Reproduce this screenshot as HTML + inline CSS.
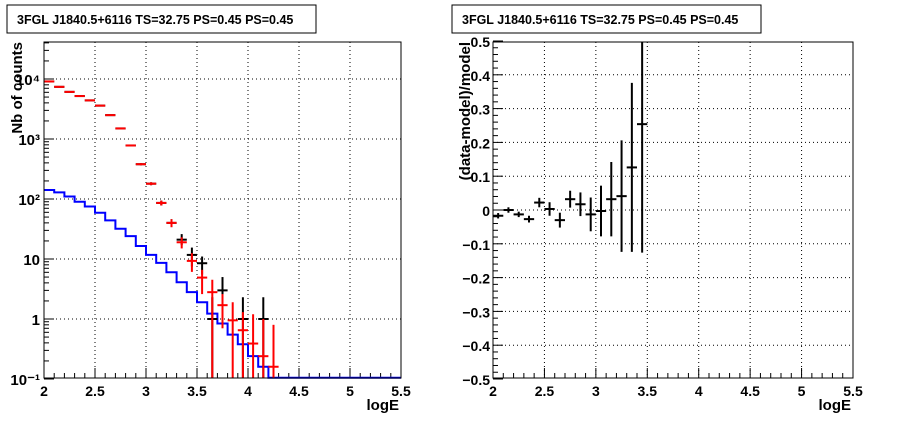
<!DOCTYPE html>
<html><head><meta charset="utf-8">
<style>
body{margin:0;background:#fff;}
svg{display:block;font-family:"Liberation Sans",Arial,sans-serif;}
</style></head>
<body>
<svg id="c" width="898" height="421" viewBox="0 0 898 421" xmlns="http://www.w3.org/2000/svg"></svg>
<script>
// ---- data ----
const binCenters = [2.05,2.15,2.25,2.35,2.45,2.55,2.65,2.75,2.85,2.95,3.05,3.15,3.25,3.35,3.45,3.55,3.65,3.75,3.85,3.95,4.05,4.15,4.25];
const redCounts = [9100,7400,6100,5200,4400,3600,2500,1500,780,380,180,86,40,19,9.3,4.9,2.8,1.7,0.95,0.65,0.39,0.24,0.16];
const redLow = [9000,7300,6000,5100,4300,3500,2450,1460,760,365,170,78,34,15,6.1,2.6,0.1,0.7,0.1,0.1,0.1,0.1,0.1];
const redHigh = [9200,7500,6200,5300,4500,3700,2550,1540,800,395,190,94,46,23,12.5,6.6,4.5,2.6,1.9,1.3,1.2,1.0,0.8];
const blackCounts = [9100,7400,6100,5200,4400,3600,2500,1500,780,380,180,86,40,21,11.7,8.5,1,3,0,1,0,1,0];
const blackLow = [9000,7300,6000,5100,4300,3500,2450,1460,760,365,170,78,34,17,7.5,5.5,0.1,1.5,0,0.1,0,0.1,0];
const blackHigh = [9200,7500,6200,5300,4500,3700,2550,1540,800,395,190,94,46,26,15.5,11,2.3,5,0,2.3,0,2.3,0];
const modelEdges = [2.0,2.1,2.2,2.3,2.4,2.5,2.6,2.7,2.8,2.9,3.0,3.1,3.2,3.3,3.4,3.5,3.6,3.7,3.8,3.9,4.0,4.1,4.2,5.5];
const modelCounts = [141,129,110,90,75,59,44,32,24,16.5,11.7,8.6,6,4.1,2.8,1.9,1.23,0.84,0.55,0.38,0.24,0.16,0.105];
const resCenters = [2.05,2.15,2.25,2.35,2.45,2.55,2.65,2.75,2.85,2.95,3.05,3.15,3.25,3.35,3.45];
const resValues = [-0.017,0.0,-0.013,-0.027,0.022,0.003,-0.03,0.032,0.017,-0.013,-0.003,0.032,0.041,0.126,0.254];
const resErrors = [0.008,0.008,0.008,0.01,0.014,0.02,0.022,0.025,0.035,0.05,0.075,0.11,0.165,0.25,0.38];
const xTickLabels = ["2","2.5","3","3.5","4","4.5","5","5.5"];
const logTickLabels = ["10\u207B\u00B9","1","10","10\u00B2","10\u00B3","10\u2074"];
const resTickLabels = ["\u22120.5","\u22120.4","\u22120.3","\u22120.2","\u22120.1","0","0.1","0.2","0.3","0.4","0.5"];

const svg = document.getElementById('c');
const NS = 'http://www.w3.org/2000/svg';
function mk(tag, attrs, parent){const e=document.createElementNS(NS,tag);for(const k in attrs)e.setAttribute(k,attrs[k]);(parent||svg).appendChild(e);return e;}

// axes
const L = {x0:44,x1:401,y0:42,y1:378};
const R = {x0:493,x1:853,y0:42,y1:378};
const lx = v => L.x0 + (v-2)/(3.5)*(L.x1-L.x0);
const ly = v => 379 - (Math.log10(Math.max(v,1e-3))+1)*60;
const clampL = y => Math.min(L.y1, Math.max(L.y0, y));
const rx = v => R.x0 + (v-2)/(3.5)*(R.x1-R.x0);
const ry = v => 210 - v*338;
const clampR = y => Math.min(R.y1, Math.max(R.y0, y));

// title boxes
[[7,'left-title'],[452,'right-title']].forEach(([x,n])=>{
  const g=mk('g',{});
  
  
  mk('rect',{x:x,y:5,width:309,height:28,fill:'#fff',stroke:'#000','stroke-width':1},g);
  const t=mk('text',{x:x+10,y:24,'font-size':12.5,'font-weight':'bold'},g);
  t.textContent='3FGL J1840.5+6116 TS=32.75 PS=0.45 PS=0.45';
});

function frame(F,name){
  const r=mk('rect',{x:F.x0,y:F.y0,width:F.x1-F.x0,height:F.y1-F.y0,fill:'none',stroke:'#000','stroke-width':1});
  
  
}
function grid(x1,y1,x2,y2){mk('line',{x1:x1,y1:y1,x2:x2,y2:y2,stroke:'#000','stroke-width':1,'stroke-dasharray':'1,3'});}

// x axes for both
[[L,lx,'left'],[R,rx,'right']].forEach(([F,fx,side])=>{
  for(let i=0;i<=35;i++){
    const v=2+i*0.1, x=fx(v), major=(i%5===0);
    mk('line',{x1:x,y1:F.y1,x2:x,y2:F.y1-(major?10:5),stroke:'#000'});
  }
  xTickLabels.forEach((s,i)=>{
    const v=2+i*0.5,x=fx(v);
    if(i>0&&i<7) grid(x,F.y0,x,F.y1);
    const t=mk('text',{x:x,y:F.y1+18,'font-size':14,'text-anchor':'middle','font-weight':'bold'});
    
    
    t.textContent=s;
  });
  const t=mk('text',{x:F.x1-2,y:410,'font-size':15,'text-anchor':'end','font-weight':'bold'});
  
  
  t.textContent='logE';
});

// left y log axis
for(let d=-1; d<=4; d++){
  for(let m=1;m<=9;m++){
    const v=m*Math.pow(10,d), y=ly(v);
    if(y<L.y0) break;
    mk('line',{x1:L.x0,y1:y,x2:L.x0+(m===1?10:5),y2:y,stroke:'#000'});
  }
}
logTickLabels.forEach((s,i)=>{
  const y=ly(Math.pow(10,i-1));
  if(i>0) grid(L.x0,y,L.x1,y);
  const t=mk('text',{x:L.x0-4,y:y+6,'font-size':15,'text-anchor':'end','font-weight':'bold'});
  
  
  t.textContent=s;
});
{const t=mk('text',{x:0,y:0,'font-size':15,'text-anchor':'end','font-weight':'bold',transform:'translate(22,42) rotate(-90)'});


t.textContent='Nb of counts';}

// right y axis
for(let i=0;i<=50;i++){
  const v=-0.5+i*0.02, y=ry(v);
  mk('line',{x1:R.x0,y1:y,x2:R.x0+(i%5===0?10:5),y2:y,stroke:'#000'});
}
resTickLabels.forEach((s,i)=>{
  const y=ry(-0.5+i*0.1);
  if(i>0&&i<10) grid(R.x0,y,R.x1,y);
  const t=mk('text',{x:R.x0-3,y:y+6,'font-size':14,'text-anchor':'end','font-weight':'bold'});
  
  
  t.textContent=s;
});
{const t=mk('text',{x:0,y:0,'font-size':15,'text-anchor':'end','font-weight':'bold',transform:'translate(470,42) rotate(-90)'});


t.textContent='(data-model)/model';}

// model step histogram
{let d='';
modelCounts.forEach((v,i)=>{
  const y=clampL(ly(v)), xa=lx(modelEdges[i]), xb=lx(modelEdges[i+1]);
  d+=(i===0?'M':'L')+xa+','+y+'L'+xb+','+y;
});
const p=mk('path',{d:d,fill:'none',stroke:'#0000ff','stroke-width':2});

}

function errPoints(cs,vals,lo,hi,color,name){
  cs.forEach((c,i)=>{
    if(vals[i]<=0) return;
    const x=lx(c), g=mk('g',{});
    
    
    mk('line',{x1:lx(c-0.05),y1:ly(vals[i]),x2:lx(c+0.05),y2:ly(vals[i]),stroke:color,'stroke-width':2},g);
    mk('line',{x1:x,y1:clampL(ly(hi[i])),x2:x,y2:clampL(ly(lo[i])),stroke:color,'stroke-width':2},g);
  });
}
errPoints(binCenters,blackCounts,blackLow,blackHigh,'#000','data-point');
errPoints(binCenters,redCounts,redLow,redHigh,'#ff0000','model-point');

// residuals
resCenters.forEach((c,i)=>{
  const g=mk('g',{});
  
  
  const x=rx(c), y=ry(resValues[i]);
  mk('line',{x1:rx(c-0.05),y1:y,x2:rx(c+0.05),y2:y,stroke:'#000','stroke-width':2},g);
  mk('line',{x1:x,y1:clampR(ry(resValues[i]+resErrors[i])),x2:x,y2:clampR(ry(resValues[i]-resErrors[i])),stroke:'#000','stroke-width':2},g);
});

frame(L,'left-plot-frame');
frame(R,'right-plot-frame');
</script>
</body></html>
